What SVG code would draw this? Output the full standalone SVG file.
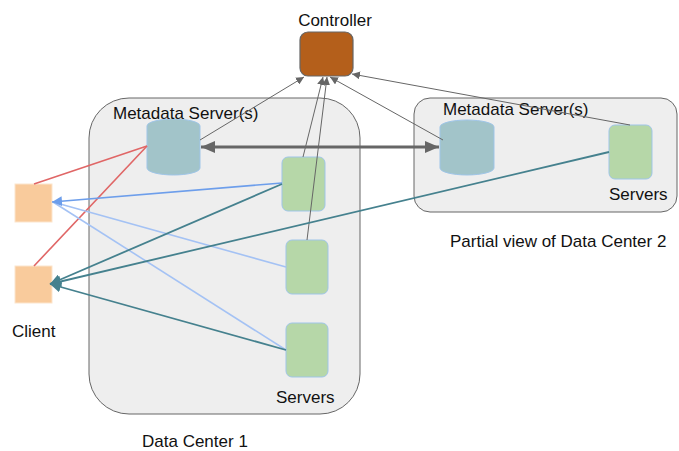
<svg xmlns="http://www.w3.org/2000/svg" width="679" height="451" viewBox="0 0 679 451">
  <style>
    text { font-family: "Liberation Sans", Arial, sans-serif; fill: #111; }
    .lbl { font-size: 17px; }
    .dc { fill: #eeeeee; stroke: #666666; stroke-width: 1; }
    .ctrl { fill: #b45f1b; stroke: #666666; stroke-width: 1.2; }
    .cyl { fill: #a2c4c9; stroke: #9fc5e8; stroke-width: 1; }
    .srv { fill: #b6d7a8; stroke: #9fc5e8; stroke-width: 1; }
    .cli { fill: #f9cb9c; stroke: #fce5cd; stroke-width: 1; }
    .thin { stroke: #666666; stroke-width: 1; fill: none; }
    .red { stroke: #e06666; stroke-width: 1.6; fill: none; }
    .blue { stroke: #6d9eeb; stroke-width: 1.6; fill: none; }
    .lblue { stroke: #a4c2f4; stroke-width: 1.6; fill: none; }
    .teal { stroke: #45818e; stroke-width: 1.8; fill: none; }
    .thick { stroke: #666666; stroke-width: 3; fill: none; }
  </style>
  <defs>
    <marker id="arrSmall" viewBox="0 0 10 10" refX="10" refY="5" markerWidth="8" markerHeight="8" markerUnits="userSpaceOnUse" orient="auto">
      <path d="M0,0 L10,5 L0,10 z" fill="#666666"/>
    </marker>
    <marker id="arrBig" viewBox="0 0 10 10" refX="10" refY="5" markerWidth="14" markerHeight="12" markerUnits="userSpaceOnUse" orient="auto-start-reverse" preserveAspectRatio="none">
      <path d="M0,0 L10,5 L0,10 z" fill="#666666"/>
    </marker>
    <marker id="arrBlue" viewBox="0 0 10 10" refX="10" refY="5" markerWidth="10" markerHeight="10" markerUnits="userSpaceOnUse" orient="auto">
      <path d="M0,0 L10,5 L0,10 z" fill="#6d9eeb"/>
    </marker>
    <marker id="arrTeal" viewBox="0 0 10 10" refX="10" refY="5" markerWidth="11" markerHeight="11" markerUnits="userSpaceOnUse" orient="auto">
      <path d="M0,0 L10,5 L0,10 z" fill="#45818e"/>
    </marker>
  </defs>

  <!-- data center containers -->
  <g id="dc1">
    <rect class="dc" x="89" y="98" width="271" height="316" rx="40" ry="40"/>
    <text class="lbl" x="142" y="447">Data Center 1</text>
  </g>
  <g id="dc2">
    <rect class="dc" x="414" y="98" width="263" height="114" rx="16" ry="16"/>
    <text class="lbl" x="450" y="247">Partial view of Data Center 2</text>
  </g>

  <!-- controller -->
  <g id="controller">
    <rect class="ctrl" x="300" y="32" width="53" height="44" rx="8" ry="8"/>
    <text class="lbl" x="335" y="26" text-anchor="middle">Controller</text>
  </g>

  <!-- metadata servers -->
  <g id="meta1">
    <path class="cyl" d="M147,126 A26.5,7 0 0 1 200,126 L200,168 A26.5,7 0 0 1 147,168 Z"/>
    <text class="lbl" x="113" y="119">Metadata Server(s)</text>
  </g>
  <g id="meta2">
    <path class="cyl" d="M440,127 A27,7 0 0 1 494,127 L494,168 A27,7 0 0 1 440,168 Z"/>
    <text class="lbl" x="443" y="115">Metadata Server(s)</text>
  </g>

  <!-- data servers -->
  <g id="dc1-server1">
    <rect class="srv" x="282" y="157" width="43" height="54" rx="6" ry="6"/>
  </g>
  <g id="dc1-server2">
    <rect class="srv" x="286" y="240" width="42" height="54" rx="6" ry="6"/>
  </g>
  <g id="dc1-server3">
    <rect class="srv" x="286" y="323" width="42" height="54" rx="6" ry="6"/>
    <text class="lbl" x="276" y="403">Servers</text>
  </g>
  <g id="dc2-server">
    <rect class="srv" x="609" y="125" width="43" height="54" rx="6" ry="6"/>
    <text class="lbl" x="609" y="200">Servers</text>
  </g>

  <!-- clients -->
  <g id="client1">
    <rect class="cli" x="15" y="184" width="37" height="38"/>
  </g>
  <g id="client2">
    <rect class="cli" x="15" y="266" width="37" height="37"/>
    <text class="lbl" x="12" y="337">Client</text>
  </g>

  <!-- connectors -->
  <g id="connectors">
    <!-- reports to the controller -->
    <line class="thin" x1="200" y1="140" x2="304" y2="77" marker-end="url(#arrSmall)"/>
    <line class="thin" x1="303" y1="157" x2="323" y2="77" marker-end="url(#arrSmall)"/>
    <line class="thin" x1="307" y1="240" x2="327" y2="77" marker-end="url(#arrSmall)"/>
    <line class="thin" x1="443" y1="140" x2="330" y2="77" marker-end="url(#arrSmall)"/>
    <line class="thin" x1="630" y1="125" x2="352" y2="74" marker-end="url(#arrSmall)"/>

    <!-- metadata replication -->
    <line class="thick" x1="201" y1="147" x2="439" y2="147" marker-start="url(#arrBig)" marker-end="url(#arrBig)"/>

    <!-- client to metadata -->
    <line class="red" x1="34" y1="184" x2="147" y2="146"/>
    <line class="red" x1="34" y1="266" x2="147" y2="146"/>

    <!-- servers to client 1 -->
    <line class="lblue" x1="286" y1="267" x2="53" y2="202"/>
    <line class="lblue" x1="286" y1="350" x2="53" y2="202"/>
    <line class="blue" x1="282" y1="183" x2="52" y2="202" marker-end="url(#arrBlue)"/>

    <!-- servers to client 2 -->
    <line class="teal" x1="282" y1="184" x2="50" y2="284" marker-end="url(#arrTeal)"/>
    <line class="teal" x1="609" y1="152" x2="50" y2="284" marker-end="url(#arrTeal)"/>
    <line class="teal" x1="286" y1="350" x2="50" y2="284" marker-end="url(#arrTeal)"/>
  </g>
</svg>
